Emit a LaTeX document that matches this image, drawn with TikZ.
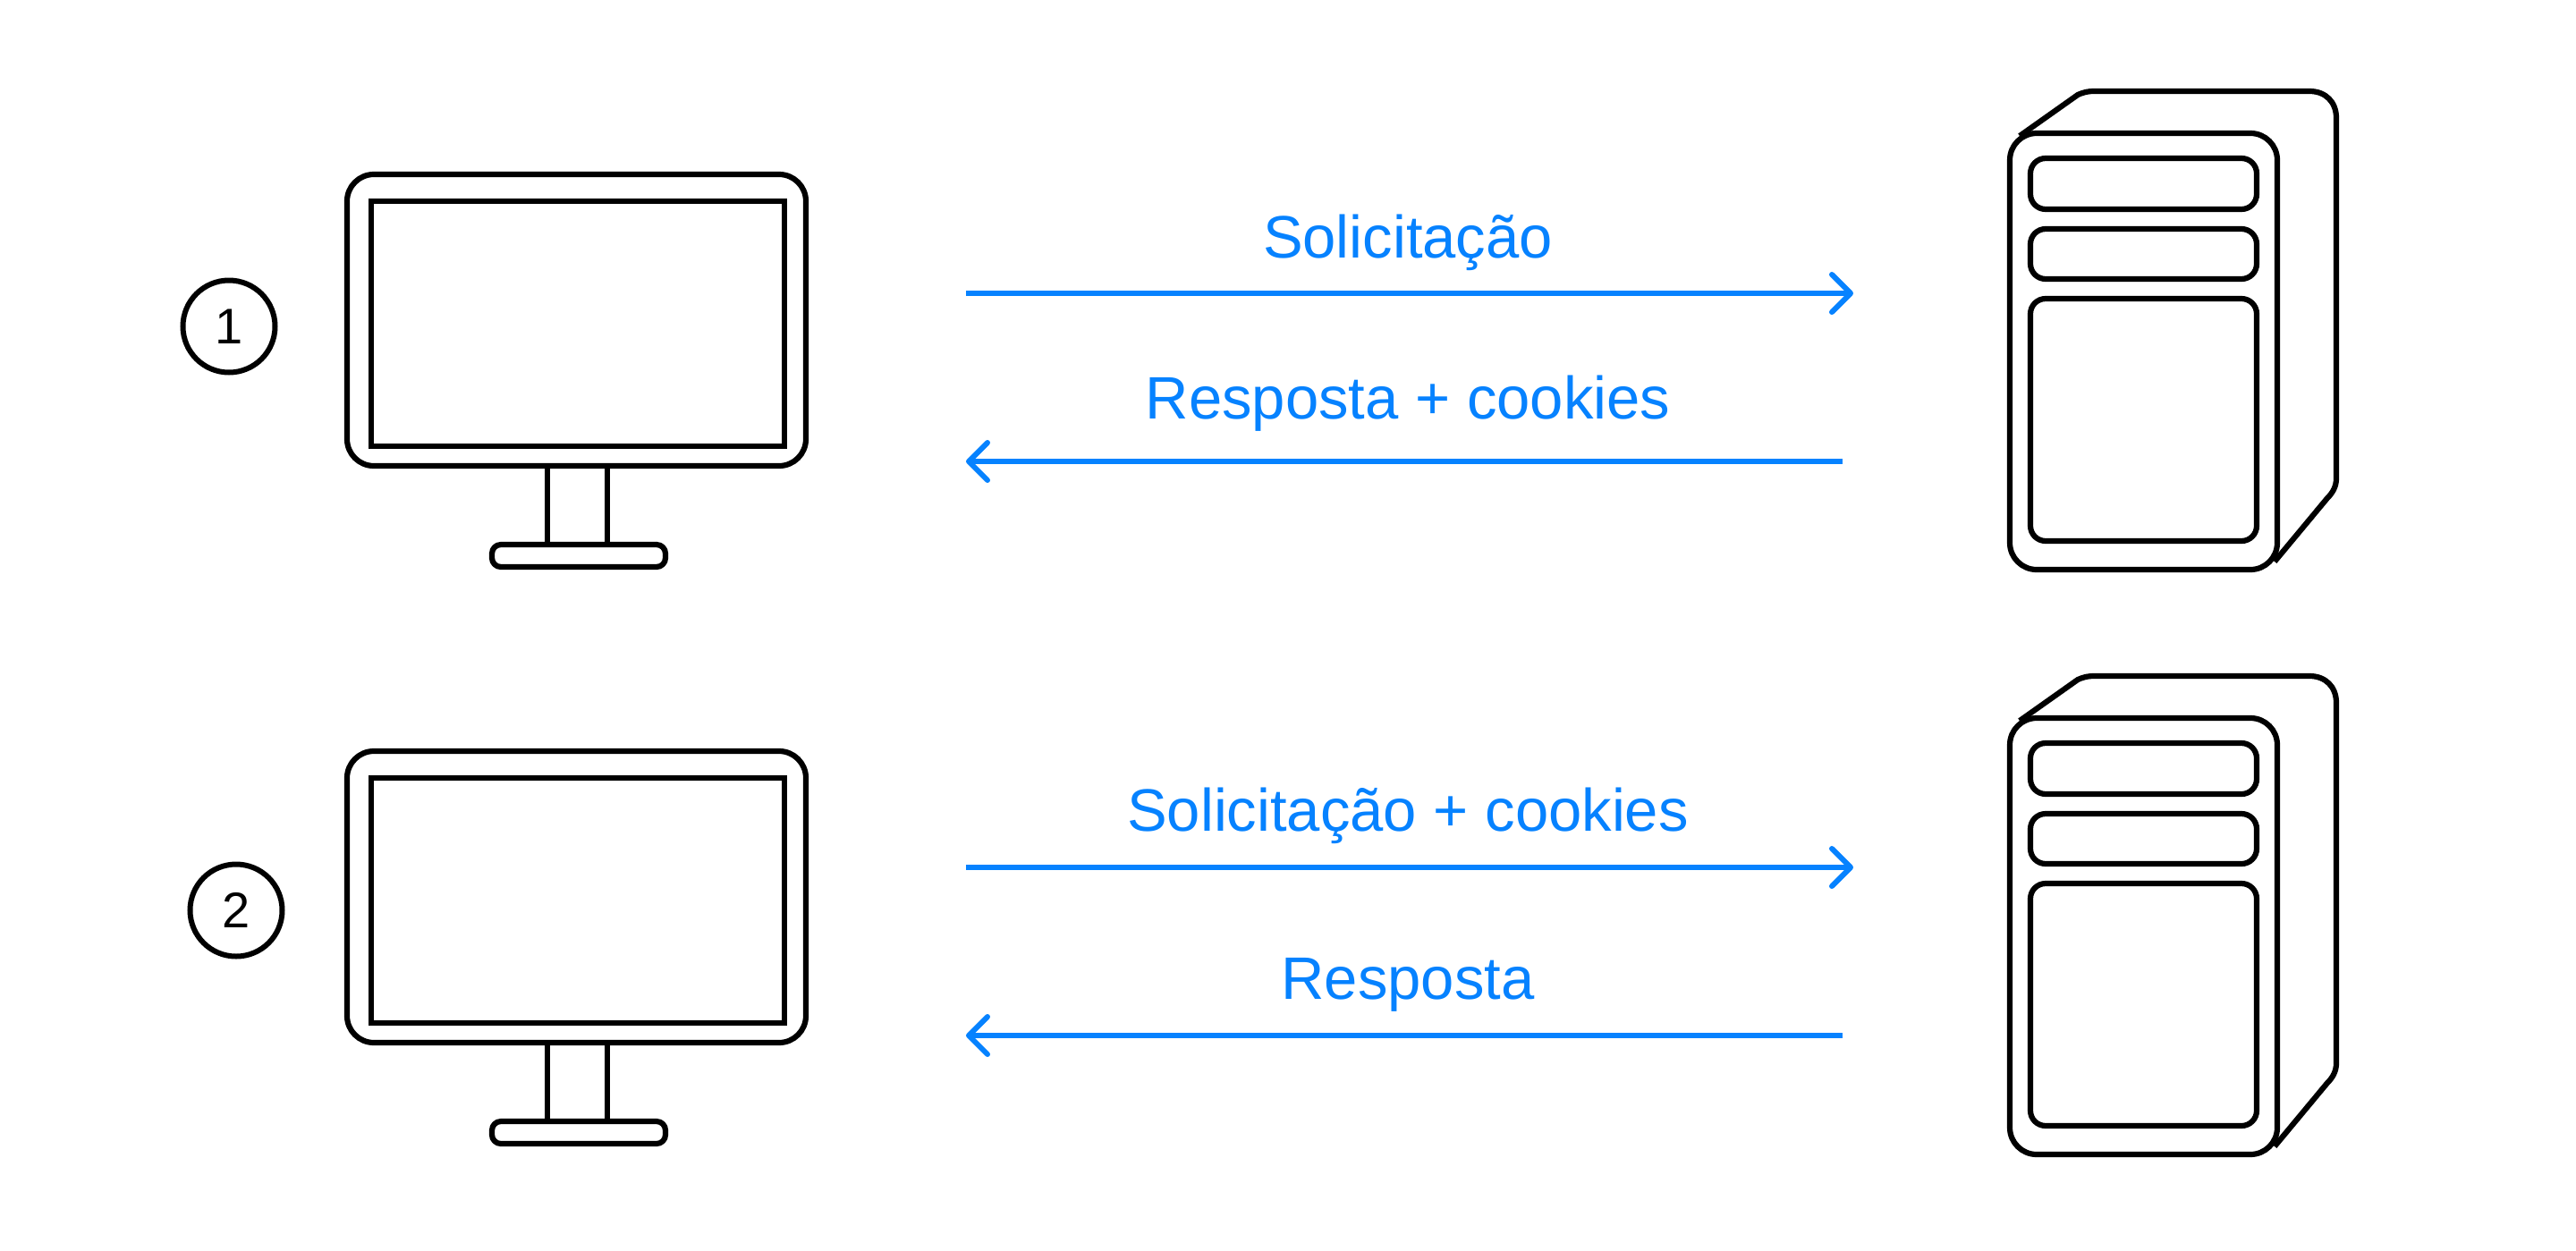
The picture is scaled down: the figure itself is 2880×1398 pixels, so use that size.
\documentclass[tikz,border=0pt]{standalone}
\usepackage{fontspec}
\setmainfont{Liberation Sans}
\definecolor{flow}{HTML}{0682FF}
\tikzset{
  x=1pt,y=-1pt,
  ink/.style={draw=black,line width=6.2pt,line join=round},
  flowline/.style={draw=flow,line width=6pt},
  headline/.style={draw=flow,line width=6pt,line cap=round,line join=round},
  flowlabel/.style={text=flow,font=\fontsize{67}{67}\selectfont,anchor=base,inner sep=0pt},
  badge/.style={circle,draw=black,line width=6pt,minimum size=103pt,inner sep=0pt},
  monitorpic/.pic={
    \draw[ink,rounded corners=30] (388,195) rectangle (901,521);
    \draw[ink,line join=miter] (415,225) rectangle (877,499);
    \draw[ink] (612,521) -- (612,609) (679,521) -- (679,609);
    \draw[ink,rounded corners=10] (550,609) rectangle (744,634);
  },
  serverpic/.pic={
    \draw[ink] (2258,152) -- (2323,106) .. controls (2330,103) and (2334,102) .. (2342,102)
      -- (2582,102) .. controls (2600,102) and (2612,114) .. (2612,132)
      -- (2612,535) .. controls (2612,544) and (2608,551) .. (2602,557) -- (2543,628);
    \draw[ink,rounded corners=30] (2247,149) rectangle (2546,637);
    \draw[ink,rounded corners=17] (2270,177) rectangle (2523,234);
    \draw[ink,rounded corners=17] (2270,256) rectangle (2523,312);
    \draw[ink,rounded corners=17] (2270,334) rectangle (2523,605);
  }
}
\begin{document}
\begin{tikzpicture}
\useasboundingbox (0,0) rectangle (2880,1398);
\fill[white] (0,0) rectangle (2880,1398);
% row 1
\pic at (0,0) {monitorpic};
\pic at (0,0) {serverpic};
\node[badge] (b1) at (256,365) {\fontsize{56}{56}\selectfont 1};
\coordinate (a1s) at (1080,328); \coordinate (a1e) at (2069,328);
\coordinate (a2s) at (2060,516); \coordinate (a2e) at (1083,516);
\draw[flowline] (a1s) -- (2066,328);
\draw[headline] (2048,307) -- (a1e) -- (2048,349);
\node[flowlabel] (t1) at (1574,288) {Solicitação};
\draw[flowline] (a2s) -- (1086,516);
\draw[headline] (1104,495) -- (a2e) -- (1104,537);
\node[flowlabel] (t2) at (1574,468) {Resposta + cookies};
% row 2
\pic at (0,645) {monitorpic};
\pic at (0,654) {serverpic};
\node[badge] (b2) at (264,1018) {\fontsize{56}{56}\selectfont 2};
\coordinate (a3s) at (1080,970); \coordinate (a3e) at (2069,970);
\coordinate (a4s) at (2060,1158); \coordinate (a4e) at (1083,1158);
\draw[flowline] (a3s) -- (2066,970);
\draw[headline] (2048,949) -- (a3e) -- (2048,991);
\node[flowlabel] (t3) at (1574,929) {Solicitação + cookies};
\draw[flowline] (a4s) -- (1086,1158);
\draw[headline] (1104,1137) -- (a4e) -- (1104,1179);
\node[flowlabel] (t4) at (1574,1117) {Resposta};
\end{tikzpicture}
\end{document}
